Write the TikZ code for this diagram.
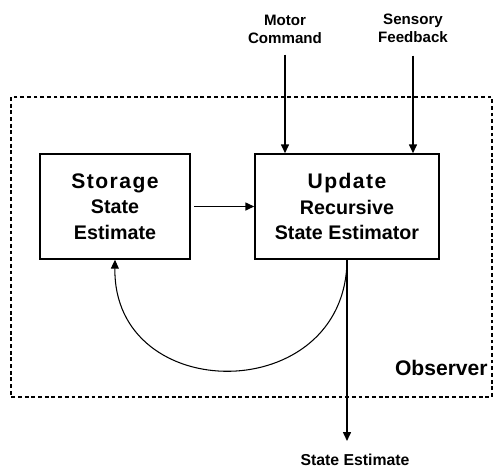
\documentclass[tikz,border=0pt]{standalone}
\usepackage{fontspec}
\setmainfont{Liberation Sans}
\usetikzlibrary{arrows.meta}
\newcommand{\headline}[1]{{\fontsize{12}{14.5}\selectfont\addfontfeature{LetterSpace=7}#1}}
\begin{document}
\begin{tikzpicture}[x=0.02cm, y=-0.02cm, >={Triangle[length=5pt,width=4.5pt]},
        block/.style={draw, line width=0.9pt, minimum height=2.1cm, align=center, inner sep=0pt,
            font=\bfseries\fontsize{11.2}{14.5}\selectfont},
        tag/.style={align=center, font=\bfseries\fontsize{8.6}{10.2}\selectfont},
        flow/.style={->, line width=0.75pt}]
        \useasboundingbox (0,0) rectangle (494,468);
        \draw[dash pattern=on 2.2pt off 1.6pt, line width=0.6pt] (11,97) rectangle (492,397);
        \node[block, minimum width=3cm] (storage) at (115,206.5)
            {\headline{Storage}\\State\\Estimate};
        \node[block, minimum width=3.68cm] (update) at (347,206.5)
            {\headline{Update}\\Recursive\\State Estimator};
        \node[tag] (motor) at (285,29) {Motor\\Command};
        \node[tag] (sensory) at (413,28) {Sensory\\Feedback};
        \node[tag, font=\bfseries\fontsize{9}{11}\selectfont] (est) at (355,460) {State Estimate};
        \node[anchor=east, inner sep=0pt, font=\bfseries\fontsize{12}{14}\selectfont] (obs) at (488,368) {Observer};
        \draw[flow, shorten <=3pt] (motor.south) -- (motor.south |- update.north);
        \draw[flow, shorten <=4pt] (sensory.south) -- (sensory.south |- update.north);
        \draw[flow, shorten <=2pt] (storage) -- (update);
        \draw[flow, shorten >=4pt] (update.south) -- (update.south |- est.north);
        \draw[->, line width=0.6pt] (update.south) .. controls (346,407) and (113,407) .. (storage.south);
    \end{tikzpicture}
\end{document}
